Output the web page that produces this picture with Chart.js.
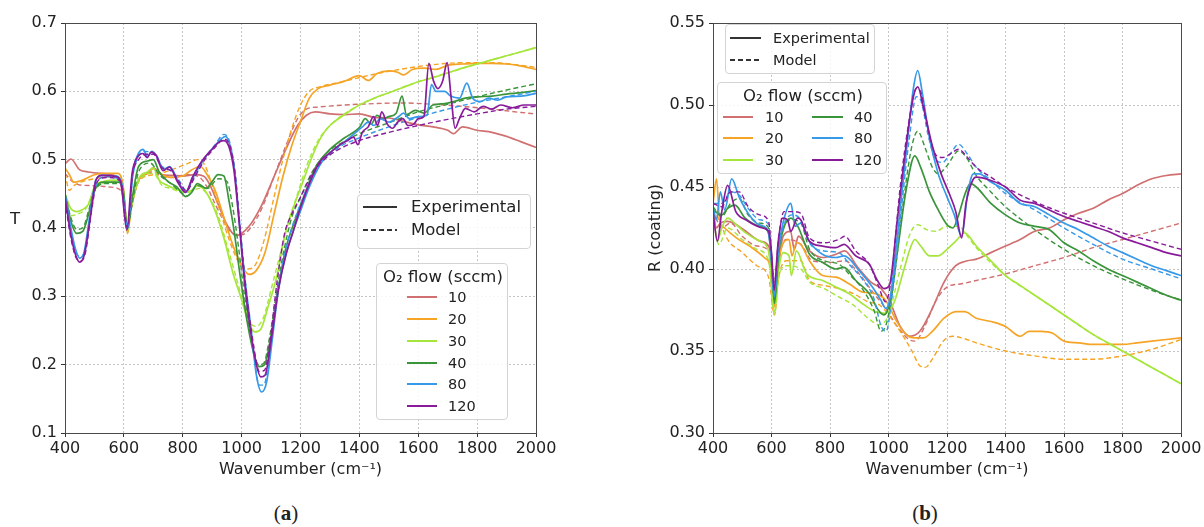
<!DOCTYPE html>
<html>
<head>
<meta charset="utf-8">
<script src="https://cdn.jsdelivr.net/npm/chart.js@4.4.1/dist/chart.umd.min.js"></script>
<style>
  body { margin: 0; background: #fff; }
  #page { position: relative; width: 1204px; height: 527px; overflow: hidden; font-family: "DejaVu Sans", sans-serif; color: #222; }
  .panel { position: absolute; top: 0; height: 483px; }
  .box { position: absolute; background: rgba(255,255,255,0.85); border: 1px solid #d4d4d4; border-radius: 4px; box-sizing: border-box; }
  .txt { position: absolute; white-space: nowrap; line-height: 1; transform: translateY(-50%); }
  .mid { transform: translate(-50%, -50%); }
  .cap { position: absolute; font-family: "Liberation Serif", serif; font-size: 21px; line-height: 1; transform: translate(-50%, -50%); }
</style>
</head>
<body>
<div id="page">
  <div class="panel" style="left:0;width:600px"><canvas id="chartA"></canvas></div>
  <div class="panel" style="left:600px;width:604px"><canvas id="chartB"></canvas></div>
  <div class="txt" style="left:10px;top:219px;font-size:16.5px">T</div>
  <div class="cap" style="left:286px;top:513px">(<b>a</b>)</div>
  <div class="cap" style="left:925px;top:513px">(<b>b</b>)</div>
</div>
<script>
const flows = ["10", "20", "30", "40", "80", "120"];
const colors = ["#d07070", "#f5a425", "#a6e63c", "#3a943a", "#3799e8", "#891b9b"];
const xTicks = [400, 600, 800, 1000, 1200, 1400, 1600, 1800, 2000];
const yTicksA = [0.1, 0.2, 0.3, 0.4, 0.5, 0.6, 0.7];
const yTicksB = [0.30, 0.35, 0.40, 0.45, 0.50, 0.55];

// (a) transmittance, [wavenumber, T]
const T10exp = [[400,0.494],[420,0.501],[450,0.485],[480,0.482],[520,0.480],[560,0.478],[585,0.470],[600,0.440],[612,0.398],[625,0.430],[650,0.470],[680,0.480],[700,0.488],[730,0.478],[760,0.477],[800,0.476],[840,0.478],[870,0.476],[890,0.465],[920,0.435],[950,0.405],[980,0.389],[1000,0.392],[1030,0.405],[1070,0.435],[1110,0.475],[1150,0.515],[1190,0.550],[1220,0.565],[1250,0.570],[1300,0.567],[1350,0.566],[1400,0.567],[1450,0.562],[1500,0.561],[1550,0.556],[1600,0.551],[1650,0.548],[1700,0.543],[1720,0.538],[1750,0.548],[1800,0.543],[1850,0.540],[1900,0.534],[1950,0.526],[2000,0.518]];
const T10mod = [[400,0.480],[420,0.470],[450,0.463],[500,0.462],[550,0.460],[590,0.455],[600,0.440],[612,0.400],[625,0.430],[650,0.468],[700,0.482],[730,0.475],[770,0.474],[810,0.478],[850,0.476],[880,0.462],[910,0.435],[940,0.410],[970,0.392],[1000,0.390],[1030,0.400],[1070,0.430],[1110,0.475],[1150,0.520],[1190,0.560],[1220,0.574],[1260,0.577],[1350,0.580],[1450,0.582],[1550,0.583],[1650,0.581],[1750,0.578],[1850,0.574],[1950,0.569],[2000,0.567]];
const T20exp = [[400,0.488],[415,0.478],[430,0.467],[460,0.470],[500,0.478],[540,0.480],[580,0.480],[598,0.460],[612,0.392],[625,0.430],[650,0.470],[680,0.480],[700,0.487],[730,0.478],[760,0.474],[800,0.476],[830,0.485],[860,0.490],[880,0.480],[910,0.455],[940,0.415],[970,0.375],[1000,0.345],[1025,0.332],[1050,0.338],[1080,0.365],[1110,0.420],[1140,0.475],[1170,0.520],[1200,0.556],[1230,0.590],[1260,0.604],[1300,0.609],[1350,0.615],[1400,0.623],[1430,0.616],[1460,0.626],[1500,0.630],[1530,0.628],[1550,0.624],[1580,0.632],[1620,0.634],[1660,0.632],[1700,0.638],[1750,0.640],[1800,0.641],[1850,0.641],[1900,0.640],[1950,0.637],[2000,0.632]];
const T20mod = [[400,0.480],[415,0.455],[430,0.462],[460,0.468],[500,0.472],[550,0.475],[590,0.472],[600,0.450],[612,0.393],[625,0.430],[650,0.468],[700,0.478],[740,0.482],[780,0.488],[820,0.495],[850,0.500],[875,0.492],[900,0.462],[930,0.420],[960,0.380],[990,0.350],[1020,0.340],[1045,0.345],[1075,0.380],[1110,0.445],[1140,0.500],[1170,0.545],[1200,0.580],[1230,0.600],[1270,0.607],[1350,0.615],[1450,0.625],[1550,0.633],[1650,0.639],[1750,0.642],[1850,0.642],[1950,0.638],[2000,0.635]];
const T30exp = [[400,0.450],[420,0.428],[440,0.424],[460,0.427],[480,0.435],[500,0.460],[530,0.468],[580,0.470],[598,0.455],[612,0.395],[625,0.430],[650,0.472],[680,0.482],[700,0.488],[720,0.470],[750,0.462],[790,0.455],[820,0.452],[850,0.462],[880,0.452],[910,0.425],[940,0.385],[970,0.335],[1000,0.295],[1025,0.260],[1045,0.248],[1065,0.252],[1090,0.285],[1120,0.330],[1150,0.395],[1180,0.435],[1210,0.470],[1240,0.505],[1270,0.533],[1300,0.550],[1350,0.566],[1400,0.580],[1450,0.590],[1500,0.598],[1550,0.606],[1600,0.614],[1650,0.620],[1700,0.627],[1750,0.634],[1800,0.640],[1850,0.646],[1900,0.652],[1950,0.658],[2000,0.664]];
const T30mod = [[400,0.440],[420,0.418],[440,0.420],[470,0.428],[500,0.455],[530,0.465],[590,0.467],[612,0.398],[625,0.430],[650,0.468],[700,0.480],[730,0.462],[760,0.458],[800,0.452],[830,0.455],[860,0.458],[890,0.445],[920,0.418],[950,0.375],[980,0.330],[1010,0.285],[1035,0.258],[1050,0.256],[1075,0.270],[1100,0.310],[1130,0.360],[1160,0.410],[1190,0.450],[1220,0.490],[1260,0.528],[1300,0.550],[1400,0.580],[1500,0.598],[1600,0.614],[1700,0.627],[1800,0.640],[1900,0.652],[2000,0.664]];
const T40exp = [[400,0.450],[420,0.410],[440,0.392],[460,0.395],[480,0.420],[500,0.455],[530,0.467],[580,0.467],[598,0.455],[612,0.400],[625,0.435],[650,0.490],[680,0.498],[700,0.500],[720,0.482],[750,0.468],[780,0.460],[810,0.446],[830,0.452],[850,0.465],[880,0.458],[900,0.468],[920,0.478],[940,0.476],[957,0.440],[974,0.397],[995,0.330],[1020,0.260],[1045,0.210],[1060,0.197],[1078,0.200],[1095,0.230],[1120,0.300],[1150,0.370],[1180,0.410],[1210,0.445],[1250,0.488],[1300,0.515],[1350,0.532],[1400,0.547],[1420,0.560],[1440,0.552],[1460,0.565],[1480,0.560],[1500,0.563],[1525,0.568],[1545,0.593],[1560,0.566],[1590,0.572],[1620,0.568],[1650,0.580],[1690,0.582],[1720,0.585],[1760,0.590],[1800,0.592],[1850,0.593],[1900,0.596],[1950,0.598],[2000,0.601]];
const T40mod = [[400,0.450],[420,0.415],[440,0.398],[460,0.400],[480,0.425],[500,0.455],[540,0.465],[590,0.465],[612,0.400],[630,0.440],[650,0.482],[690,0.495],[720,0.478],[760,0.465],[800,0.450],[815,0.447],[850,0.462],[885,0.458],[920,0.472],[950,0.468],[970,0.430],[990,0.370],[1010,0.300],[1035,0.230],[1058,0.200],[1075,0.202],[1095,0.240],[1120,0.310],[1145,0.370],[1170,0.415],[1200,0.445],[1240,0.482],[1290,0.510],[1350,0.527],[1400,0.538],[1500,0.554],[1600,0.570],[1700,0.581],[1800,0.592],[1900,0.602],[2000,0.611]];
const T80exp = [[400,0.450],[420,0.400],[435,0.370],[450,0.356],[465,0.365],[485,0.420],[505,0.470],[525,0.477],[575,0.476],[590,0.468],[612,0.398],[630,0.480],[645,0.505],[665,0.515],[680,0.505],[695,0.512],[712,0.505],[735,0.486],[755,0.490],[785,0.468],[810,0.452],[835,0.474],[870,0.500],[905,0.518],[930,0.530],[945,0.534],[960,0.522],[975,0.488],[992,0.410],[1010,0.330],[1030,0.260],[1050,0.185],[1068,0.160],[1085,0.175],[1105,0.240],[1125,0.310],[1150,0.360],[1175,0.395],[1200,0.425],[1230,0.460],[1270,0.495],[1300,0.510],[1340,0.523],[1380,0.537],[1410,0.548],[1430,0.555],[1450,0.550],[1470,0.560],[1500,0.555],[1530,0.562],[1550,0.568],[1570,0.560],[1600,0.563],[1630,0.565],[1645,0.610],[1660,0.600],[1690,0.600],[1710,0.593],[1740,0.590],[1765,0.612],[1785,0.590],[1810,0.585],[1840,0.590],[1870,0.587],[1900,0.592],[1950,0.593],[2000,0.597]];
const T80mod = [[400,0.445],[420,0.395],[440,0.362],[455,0.358],[470,0.370],[490,0.430],[510,0.468],[540,0.475],[590,0.470],[612,0.400],[630,0.475],[650,0.505],[670,0.512],[700,0.510],[730,0.490],[760,0.484],[790,0.468],[812,0.455],[840,0.475],[875,0.502],[910,0.522],[940,0.537],[960,0.525],[978,0.480],[995,0.400],[1015,0.310],[1040,0.220],[1060,0.170],[1075,0.170],[1095,0.215],[1120,0.300],[1145,0.360],[1170,0.400],[1200,0.435],[1240,0.475],[1280,0.500],[1330,0.518],[1400,0.532],[1500,0.548],[1600,0.562],[1700,0.574],[1800,0.584],[1900,0.592],[2000,0.600]];
const T120exp = [[400,0.445],[420,0.390],[435,0.362],[450,0.350],[465,0.360],[485,0.412],[505,0.470],[525,0.477],[575,0.475],[590,0.466],[610,0.397],[628,0.480],[645,0.503],[665,0.509],[679,0.503],[693,0.511],[710,0.506],[733,0.484],[755,0.489],[783,0.467],[809,0.452],[834,0.475],[867,0.499],[901,0.516],[924,0.526],[940,0.528],[957,0.519],[974,0.484],[991,0.411],[1010,0.320],[1030,0.250],[1050,0.200],[1065,0.182],[1080,0.185],[1100,0.235],[1125,0.310],[1150,0.360],[1175,0.395],[1200,0.430],[1235,0.470],[1266,0.497],[1300,0.510],[1334,0.522],[1360,0.528],[1380,0.533],[1395,0.522],[1410,0.540],[1430,0.548],[1448,0.563],[1462,0.550],[1476,0.570],[1495,0.552],[1513,0.546],[1530,0.555],[1548,0.560],[1565,0.550],[1585,0.552],[1600,0.560],[1619,0.563],[1636,0.641],[1652,0.615],[1667,0.604],[1683,0.615],[1698,0.642],[1712,0.590],[1725,0.546],[1740,0.560],[1760,0.575],[1790,0.570],[1820,0.578],[1850,0.574],[1880,0.580],[1920,0.576],[1960,0.580],[2000,0.580]];
const T120mod = [[400,0.440],[420,0.385],[440,0.355],[455,0.352],[470,0.365],[490,0.425],[510,0.468],[540,0.474],[590,0.468],[612,0.400],[630,0.478],[650,0.500],[675,0.508],[700,0.508],[730,0.488],[760,0.484],[790,0.466],[812,0.454],[840,0.474],[875,0.500],[910,0.518],[940,0.530],[960,0.520],[978,0.478],[995,0.398],[1015,0.310],[1040,0.230],[1060,0.190],[1078,0.192],[1098,0.240],[1120,0.320],[1145,0.390],[1170,0.420],[1200,0.445],[1240,0.480],[1280,0.500],[1330,0.515],[1400,0.528],[1500,0.540],[1600,0.550],[1700,0.559],[1800,0.567],[1900,0.574],[2000,0.578]];

// (b) coating reflectance, [wavenumber, R]
const R10exp = [[400,0.436],[412,0.425],[425,0.428],[450,0.429],[480,0.427],[512,0.423],[560,0.417],[590,0.414],[600,0.405],[610,0.381],[622,0.400],[640,0.420],[665,0.423],[678,0.412],[692,0.420],[730,0.411],[775,0.407],[820,0.409],[850,0.411],[895,0.401],[940,0.392],[975,0.388],[1005,0.380],[1040,0.365],[1073,0.359],[1107,0.362],[1150,0.376],[1190,0.392],[1230,0.402],[1270,0.405],[1300,0.406],[1350,0.410],[1400,0.414],[1450,0.418],[1500,0.423],[1550,0.425],[1600,0.430],[1650,0.434],[1700,0.437],[1750,0.442],[1800,0.446],[1850,0.451],[1900,0.455],[1950,0.457],[2000,0.458]];
const R10mod = [[400,0.436],[430,0.425],[460,0.428],[500,0.420],[550,0.414],[590,0.411],[610,0.380],[625,0.405],[650,0.418],[700,0.415],[740,0.405],[800,0.404],[850,0.405],[900,0.397],[950,0.385],[990,0.376],[1030,0.365],[1070,0.357],[1090,0.356],[1124,0.365],[1160,0.380],[1200,0.389],[1250,0.391],[1300,0.393],[1400,0.397],[1500,0.402],[1600,0.407],[1700,0.413],[1800,0.418],[1900,0.423],[2000,0.428]];
const R20exp = [[400,0.440],[412,0.455],[422,0.431],[440,0.425],[480,0.419],[525,0.414],[575,0.407],[598,0.400],[610,0.377],[625,0.405],[638,0.415],[660,0.418],[670,0.408],[685,0.416],[700,0.415],[730,0.405],[775,0.396],[820,0.395],[865,0.391],[910,0.386],[955,0.385],[990,0.381],[1025,0.369],[1060,0.360],[1090,0.358],[1120,0.358],[1150,0.362],[1190,0.370],[1230,0.374],[1260,0.374],[1300,0.370],[1350,0.368],[1400,0.365],[1450,0.359],[1480,0.362],[1520,0.362],[1560,0.361],[1600,0.356],[1650,0.355],[1700,0.354],[1750,0.354],[1800,0.354],[1850,0.355],[1900,0.356],[1950,0.357],[2000,0.358]];
const R20mod = [[400,0.437],[420,0.430],[450,0.418],[500,0.410],[550,0.402],[590,0.395],[610,0.372],[625,0.395],[650,0.405],[700,0.405],[730,0.393],[780,0.390],[830,0.388],[880,0.385],[930,0.380],[970,0.378],[1000,0.372],[1040,0.362],[1080,0.350],[1107,0.341],[1125,0.340],[1153,0.346],[1187,0.356],[1220,0.359],[1250,0.358],[1300,0.355],[1400,0.350],[1500,0.347],[1600,0.345],[1700,0.345],[1800,0.347],[1900,0.351],[2000,0.357]];
const R30exp = [[400,0.436],[415,0.417],[430,0.425],[450,0.431],[480,0.427],[512,0.422],[560,0.417],[590,0.411],[610,0.374],[625,0.400],[640,0.410],[660,0.408],[668,0.396],[685,0.411],[720,0.397],[775,0.393],[820,0.389],[865,0.385],[910,0.379],[955,0.374],[990,0.373],[1020,0.380],[1050,0.398],[1075,0.413],[1090,0.418],[1110,0.414],[1140,0.408],[1170,0.408],[1200,0.412],[1230,0.417],[1260,0.422],[1300,0.414],[1350,0.405],[1400,0.396],[1450,0.390],[1500,0.384],[1550,0.378],[1600,0.372],[1650,0.366],[1700,0.360],[1750,0.355],[1800,0.350],[1850,0.345],[1900,0.340],[1950,0.335],[2000,0.330]];
const R30mod = [[400,0.432],[420,0.415],[450,0.425],[500,0.418],[550,0.412],[590,0.405],[610,0.372],[625,0.395],[650,0.402],[700,0.400],[730,0.392],[780,0.388],[830,0.383],[880,0.378],[930,0.370],[970,0.366],[1000,0.372],[1040,0.400],[1075,0.422],[1100,0.427],[1130,0.424],[1160,0.423],[1200,0.426],[1240,0.426],[1270,0.420],[1300,0.413],[1400,0.396],[1500,0.384],[1600,0.372],[1700,0.360],[1800,0.350],[1900,0.340],[2000,0.330]];
const R40exp = [[400,0.436],[430,0.433],[450,0.437],[475,0.439],[510,0.431],[560,0.426],[590,0.422],[600,0.405],[610,0.379],[625,0.410],[640,0.424],[666,0.431],[690,0.426],[730,0.409],[775,0.404],[820,0.400],[848,0.401],[888,0.393],[934,0.385],[965,0.375],[985,0.372],[1005,0.380],[1030,0.410],[1060,0.448],[1090,0.469],[1110,0.462],[1140,0.447],[1170,0.436],[1200,0.427],[1220,0.425],[1240,0.433],[1260,0.445],[1280,0.452],[1300,0.450],[1350,0.440],[1400,0.433],[1450,0.428],[1500,0.426],[1550,0.424],[1600,0.416],[1650,0.411],[1700,0.405],[1750,0.400],[1800,0.396],[1850,0.392],[1900,0.388],[1950,0.384],[2000,0.381]];
const R40mod = [[400,0.438],[430,0.432],[460,0.440],[490,0.443],[520,0.433],[560,0.428],[590,0.425],[610,0.382],[625,0.412],[645,0.427],[670,0.430],[700,0.428],[730,0.412],[780,0.405],[830,0.403],[870,0.396],[910,0.388],[950,0.375],[975,0.362],[995,0.368],[1020,0.395],[1050,0.440],[1080,0.475],[1100,0.484],[1125,0.474],[1150,0.462],[1170,0.458],[1200,0.463],[1240,0.472],[1270,0.467],[1300,0.457],[1350,0.447],[1400,0.438],[1500,0.424],[1600,0.412],[1700,0.402],[1800,0.394],[1900,0.387],[2000,0.381]];
const R80exp = [[400,0.437],[412,0.430],[425,0.447],[440,0.436],[464,0.455],[489,0.444],[524,0.433],[558,0.427],[586,0.424],[598,0.410],[609,0.383],[622,0.410],[638,0.427],[666,0.440],[681,0.426],[700,0.428],[729,0.417],[774,0.409],[820,0.407],[848,0.408],[900,0.399],[945,0.389],[974,0.381],[991,0.376],[1008,0.385],[1030,0.420],[1060,0.470],[1085,0.510],[1100,0.521],[1115,0.508],[1140,0.480],[1170,0.458],[1200,0.444],[1225,0.433],[1250,0.420],[1270,0.445],[1290,0.458],[1310,0.458],[1350,0.453],[1400,0.448],[1450,0.440],[1500,0.438],[1550,0.433],[1600,0.428],[1650,0.424],[1700,0.419],[1750,0.414],[1800,0.410],[1850,0.406],[1900,0.402],[1950,0.399],[2000,0.396]];
const R80mod = [[400,0.440],[430,0.440],[460,0.447],[490,0.445],[520,0.437],[560,0.430],[590,0.427],[610,0.385],[625,0.412],[645,0.428],[670,0.433],[700,0.430],[730,0.416],[780,0.411],[830,0.410],[870,0.402],[910,0.394],[950,0.382],[975,0.365],[992,0.362],[1010,0.380],[1040,0.430],[1070,0.478],[1095,0.505],[1110,0.503],[1135,0.482],[1160,0.467],[1185,0.465],[1210,0.470],[1240,0.476],[1270,0.470],[1300,0.462],[1350,0.454],[1400,0.446],[1500,0.436],[1600,0.425],[1700,0.415],[1800,0.406],[1900,0.400],[2000,0.394]];
const R120exp = [[400,0.435],[415,0.417],[430,0.435],[450,0.451],[478,0.435],[512,0.430],[569,0.425],[590,0.423],[600,0.410],[609,0.387],[622,0.415],[638,0.431],[655,0.430],[666,0.423],[689,0.431],[700,0.430],[729,0.417],[774,0.414],[820,0.413],[848,0.415],[888,0.408],[934,0.403],[962,0.393],[985,0.388],[1003,0.390],[1030,0.430],[1060,0.475],[1085,0.505],[1100,0.511],[1120,0.498],[1150,0.475],[1180,0.458],[1210,0.445],[1230,0.435],[1250,0.419],[1265,0.440],[1285,0.453],[1300,0.456],[1350,0.454],[1400,0.450],[1450,0.442],[1500,0.440],[1550,0.436],[1600,0.432],[1650,0.429],[1700,0.426],[1750,0.423],[1800,0.419],[1850,0.416],[1900,0.413],[1950,0.410],[2000,0.408]];
const R120mod = [[400,0.440],[430,0.438],[460,0.447],[490,0.447],[520,0.438],[560,0.433],[590,0.429],[610,0.392],[625,0.420],[643,0.435],[670,0.435],[700,0.434],[730,0.419],[780,0.416],[830,0.418],[850,0.420],[888,0.411],[934,0.403],[965,0.390],[990,0.380],[1010,0.395],[1040,0.450],[1070,0.490],[1095,0.510],[1110,0.508],[1135,0.485],[1160,0.470],[1185,0.468],[1210,0.470],[1240,0.473],[1270,0.468],[1300,0.462],[1350,0.456],[1400,0.450],[1500,0.441],[1600,0.434],[1700,0.428],[1800,0.422],[1900,0.417],[2000,0.412]];

const expA = [T10exp, T20exp, T30exp, T40exp, T80exp, T120exp];
const modA = [T10mod, T20mod, T30mod, T40mod, T80mod, T120mod];
const expB = [R10exp, R20exp, R30exp, R40exp, R80exp, R120exp];
const modB = [R10mod, R20mod, R30mod, R40mod, R80mod, R120mod];

const FONT = "'DejaVu Sans', sans-serif";
const INK = "#222";

function makeSets(exp, mod) {
  const sets = [];
  flows.forEach((f, i) => {
    sets.push({
      label: f + " sccm exp",
      data: exp[i].map((p) => ({ x: p[0], y: p[1] })),
      borderColor: colors[i],
      borderWidth: 1.7,
    });
    sets.push({
      label: f + " sccm model",
      data: mod[i].map((p) => ({ x: p[0], y: p[1] })),
      borderColor: colors[i],
      borderWidth: 1.4,
      borderDash: [5, 3],
    });
  });
  // chart.js paints the first dataset last, so reverse to keep 120 on top
  return sets.reverse();
}

// matplotlib style box round the plot
const framePlugin = {
  id: "frame",
  afterDatasetsDraw(chart) {
    const a = chart.chartArea;
    const ctx = chart.ctx;
    ctx.save();
    ctx.strokeStyle = "#4a4a4a";
    ctx.lineWidth = 1;
    ctx.strokeRect(Math.round(a.left) + 0.5, Math.round(a.top) + 0.5, Math.round(a.width), Math.round(a.height));
    ctx.restore();
  },
};

function makeChart(id, sets, yTicks, digits, yTitle, pad, yWidth) {
  return new Chart(document.getElementById(id), {
    type: "line",
    data: { datasets: sets },
    plugins: [framePlugin],
    options: {
      responsive: true,
      maintainAspectRatio: false,
      animation: false,
      devicePixelRatio: 1,
      layout: { padding: pad },
      elements: {
        point: { radius: 0 },
        line: { cubicInterpolationMode: "monotone", fill: false },
      },
      plugins: { legend: { display: false }, tooltip: { enabled: false } },
      scales: {
        x: {
          type: "linear",
          min: 400,
          max: 2000,
          afterBuildTicks: (s) => { s.ticks = xTicks.map((v) => ({ value: v })); },
          afterFit: (s) => { s.height = 50; },
          ticks: { color: INK, padding: 2, maxRotation: 0, font: { family: FONT, size: 16 }, callback: (v) => String(v) },
          grid: { color: "#b8b8b8", lineWidth: 0.8, tickLength: 4, tickColor: "#333", tickWidth: 1, tickBorderDash: [] },
          border: { display: false, dash: [2, 2] },
          title: { display: true, text: "Wavenumber (cm⁻¹)", color: INK, font: { family: FONT, size: 16 }, padding: { top: 4, bottom: 4 } },
        },
        y: {
          type: "linear",
          min: yTicks[0],
          max: yTicks[yTicks.length - 1],
          afterBuildTicks: (s) => { s.ticks = yTicks.map((v) => ({ value: v })); },
          afterFit: (s) => { s.width = yWidth; },
          ticks: { color: INK, padding: 4, font: { family: FONT, size: 16 }, callback: (v) => Number(v).toFixed(digits) },
          grid: { color: "#b8b8b8", lineWidth: 0.8, tickLength: 4, tickColor: "#333", tickWidth: 1, tickBorderDash: [] },
          border: { display: false, dash: [2, 2] },
          title: { display: !!yTitle, text: yTitle, color: INK, font: { family: FONT, size: 16 }, padding: { top: 4, bottom: 4 } },
        },
      },
    },
  });
}

makeChart("chartA", makeSets(expA, modA), yTicksA, 1, "", { top: 23, right: 64, left: 0, bottom: 0 }, 65);
makeChart("chartB", makeSets(expB, modB), yTicksB, 2, "R (coating)", { top: 23, right: 23, left: 42, bottom: 0 }, 71);

// legends
const page = document.getElementById("page");

function addBox(x, y, w, h) {
  const d = document.createElement("div");
  d.className = "box";
  Object.assign(d.style, { left: x + "px", top: y + "px", width: w + "px", height: h + "px" });
  page.appendChild(d);
}

function addSample(x1, x2, y, color, dashed) {
  const ns = "http://www.w3.org/2000/svg";
  const svg = document.createElementNS(ns, "svg");
  svg.setAttribute("width", x2 - x1);
  svg.setAttribute("height", 6);
  Object.assign(svg.style, { position: "absolute", left: x1 + "px", top: y - 3 + "px" });
  const ln = document.createElementNS(ns, "line");
  ln.setAttribute("x1", 0);
  ln.setAttribute("x2", x2 - x1);
  ln.setAttribute("y1", 3);
  ln.setAttribute("y2", 3);
  ln.setAttribute("stroke", color);
  ln.setAttribute("stroke-width", 2);
  if (dashed) ln.setAttribute("stroke-dasharray", "5,3");
  svg.appendChild(ln);
  page.appendChild(svg);
}

function addText(x, y, text, size, centered) {
  const d = document.createElement("div");
  d.className = centered ? "txt mid" : "txt";
  d.textContent = text;
  Object.assign(d.style, { left: x + "px", top: y + "px", fontSize: size + "px" });
  page.appendChild(d);
}

// (a) style legend
addBox(357, 194, 174, 55);
addSample(363, 397, 207, "#333", false);
addText(411, 207, "Experimental", 16.5);
addSample(363, 397, 230, "#333", true);
addText(411, 230, "Model", 16.5);

// (a) flow legend
addBox(376, 263, 132, 157);
addText(443, 277, "O₂ flow (sccm)", 16.5, true);
const rowsA = [297, 319, 341, 363, 384, 406];
flows.forEach((f, i) => {
  addSample(407, 437, rowsA[i], colors[i], false);
  addText(448, rowsA[i], f, 14.5);
});

// (b) style legend
addBox(725, 24, 150, 50);
addSample(730, 761, 38, "#333", false);
addText(773, 38, "Experimental", 14.5);
addSample(730, 761, 60, "#333", true);
addText(773, 60, "Model", 14.5);

// (b) flow legend, two columns
addBox(717, 82, 170, 92);
addText(803, 96, "O₂ flow (sccm)", 16.5, true);
const rowsB = [117, 138, 160];
flows.forEach((f, i) => {
  const col = i < 3 ? 0 : 1;
  const y = rowsB[i % 3];
  addSample(col ? 812 : 723, col ? 843 : 753, y, colors[i], false);
  addText(col ? 854 : 765, y, f, 14.5);
});
</script>
</body>
</html>
